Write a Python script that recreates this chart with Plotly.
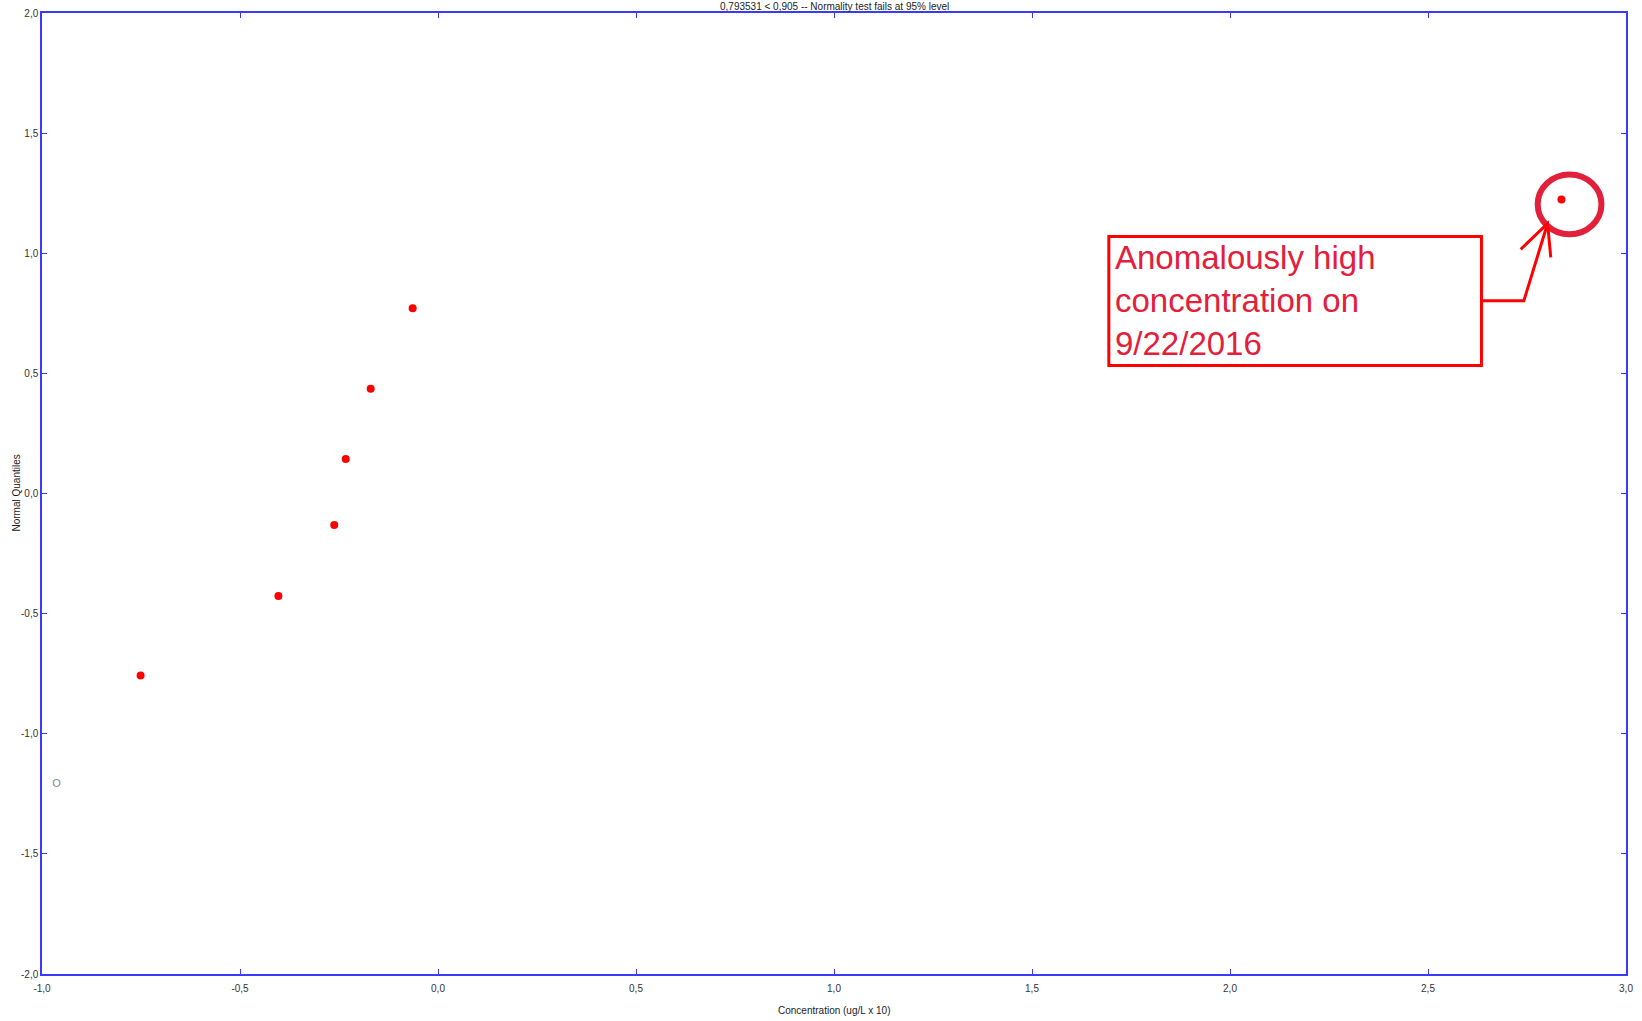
import plotly.graph_objects as go

# Daten
conc = [-0.751, -0.403, -0.262, -0.233, -0.170, -0.064, 2.837]      # Konzentration (ug/L x 10)
quant = [-0.758, -0.427, -0.131, 0.144, 0.436, 0.771, 1.224]        # Normal-Quantile
nd_conc = [-0.963]                                                   # Nichtnachweis (grau, "O")
nd_quant = [-1.211]
xticks = [-1.0, -0.5, 0.0, 0.5, 1.0, 1.5, 2.0, 2.5, 3.0]
xticklabels = ['-1,0', '-0,5', '0,0', '0,5', '1,0', '1,5', '2,0', '2,5', '3,0']
yticks = [-2.0, -1.5, -1.0, -0.5, 0.0, 0.5, 1.0, 1.5, 2.0]
yticklabels = ['-2,0', '-1,5', '-1,0', '-0,5', '0,0', '0,5', '1,0', '1,5', '2,0']
title_txt = '0,793531 < 0,905 -- Normality test fails at 95% level'
xlabel = 'Concentration (ug/L x 10)'
ylabel = 'Normal Quantiles'
note_txt = 'Anomalously high<br>concentration on<br>9/22/2016'

axis_blue = '#3a3aff'
box_red = '#ff0000'
txt_red = '#e3203b'
small_font = dict(family='Arial', size=10, color='#222222')

fig = go.Figure()
fig.add_trace(go.Scatter(x=conc, y=quant, mode='markers',
                         marker=dict(color='red', size=8, symbol='circle'),
                         showlegend=False))
fig.add_trace(go.Scatter(x=nd_conc, y=nd_quant, mode='text', text=['O'],
                         textfont=dict(family='Arial', size=11, color='#888888'),
                         showlegend=False))

# Markierung des Ausreissers
ax, ay = conc[-1], quant[-1]
fig.add_shape(type='circle', xref='x', yref='y',
              x0=ax - 0.06, x1=ax + 0.101, y0=ay - 0.145, y1=ay + 0.104,
              line=dict(color=txt_red, width=6))
# Textkasten
fig.add_shape(type='rect', xref='x', yref='y', x0=1.694, x1=2.635, y0=0.533, y1=1.070,
              line=dict(color=box_red, width=3), fillcolor='rgba(0,0,0,0)')
fig.add_annotation(x=1.705, y=0.802, xref='x', yref='y', text=note_txt,
                   showarrow=False, xanchor='left', yanchor='middle', align='left',
                   font=dict(family='Arial', size=33, color=txt_red))
# Verbinder mit Pfeil
fig.add_shape(type='path', xref='x', yref='y',
              path='M 2.635 0.802 L 2.742 0.802 L 2.802 1.124',
              line=dict(color=box_red, width=3))
fig.add_shape(type='path', xref='x', yref='y',
              path='M 2.734 1.016 L 2.802 1.124 L 2.810 0.983',
              line=dict(color=box_red, width=3))

axis_common = dict(showline=True, mirror='ticks', linecolor=axis_blue, linewidth=1.5,
                   ticks='inside', ticklen=5, tickcolor=axis_blue, tickwidth=1,
                   showgrid=False, zeroline=False, automargin=False,
                   tickfont=dict(family='Arial', size=10, color='#333333'))

fig.update_xaxes(range=[-1, 3], tickvals=xticks, ticktext=xticklabels,
                 ticklabelstandoff=4, **axis_common)
fig.update_yaxes(range=[-2, 2], tickvals=yticks, ticktext=yticklabels, **axis_common)

# Titel und Achsenbeschriftungen
fig.add_annotation(x=0.5, y=1, xref='paper', yref='paper', text=title_txt,
                   showarrow=False, yanchor='bottom', yshift=-1, font=small_font)
fig.add_annotation(x=0.5, y=0, xref='paper', yref='paper', text=xlabel,
                   showarrow=False, yanchor='middle', yshift=-36, font=small_font)
fig.add_annotation(x=0, y=0.5, xref='paper', yref='paper', text=ylabel, textangle=-90,
                   showarrow=False, xanchor='center', xshift=-26, font=small_font)

fig.update_layout(width=1642, height=1021,
                  plot_bgcolor='white', paper_bgcolor='white',
                  margin=dict(l=42, r=16, t=13, b=47, autoexpand=False),
                  font=dict(family='Arial'))

fig.write_html('out.html', config={'displayModeBar': False},
               post_script="document.body.style.margin='0';")
